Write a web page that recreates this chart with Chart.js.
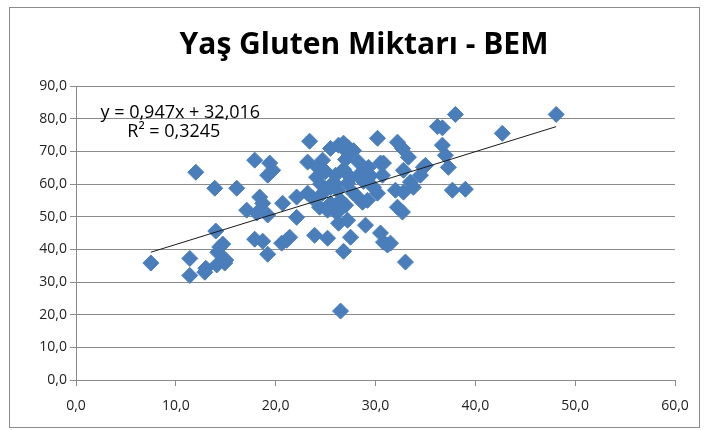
<!DOCTYPE html>
<html>
<head>
<meta charset="utf-8">
<script src="https://cdn.jsdelivr.net/npm/chart.js@4"></script>
<style>
  html, body { margin: 0; padding: 0; background: #fff; }
  #wrap { width: 706px; height: 430px; }
</style>
</head>
<body>
<div id="wrap"><canvas id="bemChart" width="706" height="430"></canvas></div>
<script>
//values (x = BEM, y = yas gluten)
const bemVals = [7.5, 11.4, 11.4, 12.0, 13.0, 12.9, 13.9, 14.1, 14.9, 14.4,
                 14.7, 14.0, 14.2, 15.0, 16.1, 17.9, 19.4, 19.7, 19.2, 18.4,
                 18.7, 17.1, 18.1, 19.2, 20.7, 17.9, 18.7, 19.2, 20.6, 21.1,
                 23.4, 26.3, 25.5, 27.2, 30.2, 23.2, 24.2, 24.1, 26.0, 28.3,
                 29.3, 28.5, 30.5, 27.2, 26.2, 24.7, 29.8, 30.2, 27.8, 28.7,
                 22.1, 23.7, 24.4, 22.1, 25.2, 26.3, 29.0, 27.5, 30.5, 23.9,
                 25.2, 21.4, 31.2, 36.2, 36.7, 32.2, 32.7, 33.3, 36.7, 37.0,
                 37.3, 30.8, 32.8, 34.8, 34.5, 33.5, 30.7, 32.0, 32.8, 33.8,
                 37.7, 39.0, 32.2, 32.7, 30.8, 31.5, 38.0, 42.7, 48.1, 35.0,
                 26.5, 33.0, 26.8, 25.8, 26.8, 27.0, 26.5, 27.5, 25.0, 26.8,
                 27.8, 28.8, 29.5, 24.5, 25.5, 26.0, 27.0, 28.2, 29.2, 23.2,
                 24.7, 27.2, 25.5, 26.2, 27.2];
const glutenVals = [35.8, 37.2, 32.0, 63.6, 34.2, 33.0, 58.7, 35.2, 35.8, 40.7,
                    41.6, 45.6, 39.1, 36.7, 58.7, 67.3, 66.4, 64.2, 62.7, 56.0,
                    54.1, 52.0, 51.1, 50.5, 54.1, 43.1, 42.5, 38.5, 41.9, 42.8,
                    73.1, 71.9, 70.9, 69.7, 74.0, 66.7, 65.1, 62.1, 62.7, 66.7,
                    65.1, 63.3, 66.4, 60.2, 58.1, 57.2, 59.0, 57.2, 57.2, 54.4,
                    56.0, 55.7, 52.9, 49.8, 52.0, 48.0, 47.4, 43.7, 45.0, 44.3,
                    43.4, 43.7, 41.3, 77.6, 77.2, 72.8, 70.9, 68.2, 71.9, 68.8,
                    65.1, 66.4, 64.2, 65.1, 62.7, 60.6, 62.7, 58.1, 57.5, 59.0,
                    58.1, 58.4, 52.9, 51.4, 42.2, 41.9, 81.3, 75.5, 81.3, 65.7,
                    21.1, 36.1, 39.4, 60.5, 64.5, 67.5, 55.0, 62.0, 63.8, 72.5,
                    70.2, 60.8, 62.5, 60.0, 54.0, 51.5, 53.5, 56.0, 55.0, 57.2,
                    67.3, 71.3, 59.0, 51.4, 48.9];

//trend line as printed on the chart
const trendSlope = 0.947;
const trendIntercept = 32.016;
const equationLines = ["y = 0,947x + 32,016", "R\u00B2 = 0,3245"];

const chartTitle = "Ya\u015F Gluten Miktar\u0131 - BEM";
const xTicks = [0, 10, 20, 30, 40, 50, 60];
const yTicks = [0, 10, 20, 30, 40, 50, 60, 70, 80, 90];

const pointColour = "#4a7ebb";
const gridColour = "#8a8a8a";
const labelFont = "'Open Sans', 'DejaVu Sans', sans-serif";

var scatterPoints = bemVals.map(function(x, i){ return {x: x, y: glutenVals[i]}; });

var xMin = Math.min.apply(null, bemVals);
var xMax = Math.max.apply(null, bemVals);
var trendPoints = [
	{x: xMin, y: trendSlope * xMin + trendIntercept},
	{x: xMax, y: trendSlope * xMax + trendIntercept}
];

function commaFmt(v){ //90 -> "90,0"
	return Number(v).toFixed(1).replace(".", ",");
}//end commaFmt

//outer frame of the chart box + the title (title plugin can't be shifted sideways)
const framePlugin = {
	id: "frame",
	beforeDraw: function(chart){
		var ctx = chart.ctx;
		ctx.save();
		ctx.fillStyle = "#fff";
		ctx.fillRect(0, 0, chart.width, chart.height);
		ctx.strokeStyle = "#8c8c8c";
		ctx.lineWidth = 1;
		ctx.strokeRect(9.5, 7.5, 690, 420);
		ctx.fillStyle = "#000";
		ctx.font = "bold 30px " + labelFont;
		ctx.textAlign = "center";
		ctx.textBaseline = "middle";
		ctx.fillText(chartTitle, 364, 45);
		ctx.restore();
	}
};//end framePlugin

//regression equation label, placed top left in the plot
const equationPlugin = {
	id: "equation",
	afterDatasetsDraw: function(chart){
		var ctx = chart.ctx;
		var xs = chart.scales.x, ys = chart.scales.y;
		ctx.save();
		ctx.fillStyle = "#000";
		ctx.font = "18px " + labelFont;
		ctx.textAlign = "center";
		ctx.textBaseline = "middle";
		ctx.fillText(equationLines[0], xs.getPixelForValue(10.45), ys.getPixelForValue(81.8));
		ctx.fillText(equationLines[1], xs.getPixelForValue(9.8), ys.getPixelForValue(75.9));
		ctx.restore();
	}
};//end equationPlugin

new Chart("bemChart", {
	type: "scatter",
	data: {
		datasets: [
			{
				type: "line",
				data: trendPoints,
				borderColor: "#1a1a1a",
				borderWidth: 1,
				pointRadius: 0,
				fill: false,
				order: 0
			},
			{
				data: scatterPoints,
				pointStyle: "rectRot",
				pointRadius: 8,
				pointBackgroundColor: pointColour,
				pointBorderColor: pointColour,
				pointBorderWidth: 1,
				order: 1
			}
		]
	},
	options: {
		responsive: false,
		animation: false,
		layout: {padding: {left: 0, right: 31, top: 86, bottom: 0}},
		plugins: {
			legend: {display: false},
			tooltip: {enabled: false},
			title: {display: false}
		},
		scales: {
			x: {
				type: "linear",
				min: 0, max: 60,
				afterBuildTicks: function(s){ s.ticks = xTicks.map(function(v){ return {value: v}; }); },
				afterFit: function(s){ s.height = 50; },
				ticks: {
					callback: commaFmt,
					color: "#222",
					font: {family: labelFont, size: 14},
					padding: 12,
					maxRotation: 0
				},
				grid: {drawOnChartArea: false, drawTicks: true, tickLength: 6, color: gridColour},
				border: {color: gridColour}
			},
			y: {
				type: "linear",
				min: 0, max: 90,
				afterBuildTicks: function(s){ s.ticks = yTicks.map(function(v){ return {value: v}; }); },
				afterFit: function(s){ s.width = 76; },
				ticks: {
					callback: commaFmt,
					color: "#222",
					font: {family: labelFont, size: 14},
					padding: 3
				},
				grid: {color: gridColour, tickLength: 6},
				border: {color: gridColour}
			}
		}
	},
	plugins: [framePlugin, equationPlugin]
});//end chart
</script>
</body>
</html>
